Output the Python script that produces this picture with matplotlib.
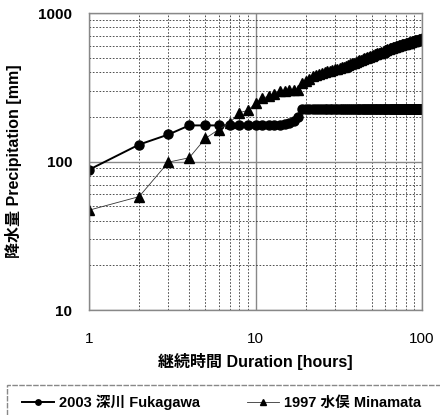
import numpy as np
import matplotlib.pyplot as plt
from matplotlib.patches import Rectangle
from matplotlib.ticker import LogLocator, FixedLocator, NullFormatter

plt.rcParams['font.family'] = ['Liberation Sans', 'Noto Sans CJK JP']

hours = list(range(1, 101))

# 2003 Fukagawa, hourly cumulative precipitation [mm]
fukagawa = ([88, 130, 152, 175, 175, 175, 175, 175, 175, 175,
             175, 175, 176, 177, 179, 183, 188, 198]
            + [226] * 82)

# 1997 Minamata, hourly cumulative precipitation [mm]
minamata = [47, 58, 99, 106, 143, 164, 182, 213, 221, 246,
            266, 276, 285, 297, 300, 302, 303, 305, 340, 350,
            362, 375, 382, 390, 395, 400, 405, 410, 414, 418,
            422, 426, 430, 435, 440, 446, 452, 458, 463, 468,
            474, 480, 486, 492, 497, 500, 503, 507, 512, 517,
            522, 527, 531, 535, 538, 541, 545, 550, 556, 560,
            565, 570, 574, 578, 581, 584, 587, 590, 593, 596,
            599, 602, 605, 608, 611, 614, 617, 620, 622, 625,
            627, 629, 631, 634, 637, 640, 643, 646, 649, 652,
            655, 657, 659, 661, 663, 665, 667, 669, 672, 675]

labels = ['2003 深川 Fukagawa', '1997 水俣 Minamata']

fig = plt.figure(figsize=(4.4, 4.15), dpi=100)
ax = fig.add_axes([89 / 440, 1 - 310 / 415, 333 / 440, 297 / 415])

l1, = ax.plot(hours, fukagawa, color='black', lw=1.4, marker='o', ms=6.5)
l2, = ax.plot(hours, minamata, color='#333333', lw=0.6, marker='^', ms=6.5,
              markerfacecolor='black', markeredgecolor='black')

ax.set_xscale('log')
ax.set_yscale('log')
ax.set_xlim(1, 100)
ax.set_ylim(10, 1000)

ax.xaxis.set_major_locator(FixedLocator([1, 10, 100]))
ax.yaxis.set_major_locator(FixedLocator([10, 100, 1000]))
ax.xaxis.set_minor_locator(LogLocator(base=10, subs=np.arange(2, 10)))
ax.yaxis.set_minor_locator(LogLocator(base=10, subs=np.arange(2, 10)))
ax.xaxis.set_minor_formatter(NullFormatter())
ax.yaxis.set_minor_formatter(NullFormatter())
ax.set_xticklabels(['1', '10', '100'])
ax.set_yticklabels(['10', '100', '1000'], fontweight='bold')

ax.tick_params(which='both', length=0)
ax.tick_params(axis='x', pad=16, labelsize=11)
ax.tick_params(axis='y', pad=12, labelsize=11)

ax.grid(which='major', color='#888888', lw=1.0, ls='-')
ax.grid(which='minor', color='#333333', lw=0.6, ls=(0, (2, 2)))
for s in ax.spines.values():
    s.set_color('#888888')
    s.set_linewidth(1.0)

ax.set_xlabel('継続時間 Duration [hours]', fontsize=11.5, fontweight='bold',
              labelpad=5)
ax.set_ylabel('降水量 Precipitation [mm]', fontsize=11.5, fontweight='bold',
              labelpad=12)

# legend box, its lower part is cut off by the figure edge
fig.add_artist(Rectangle((7 / 440, -0.1), 1.0, 1 - 385 / 415 + 0.1,
                         transform=fig.transFigure, fill=False,
                         ec='#888888', lw=1.0, ls=(0, (4, 1))))
leg = fig.legend([l1, l2], labels, loc='center left', ncol=2,
                 bbox_to_anchor=(22 / 440, 1 - 402 / 415),
                 frameon=False, fontsize=10.5, borderpad=0, borderaxespad=0,
                 handlelength=2.2, handletextpad=0.35, columnspacing=3.2,
                 markerscale=0.6)
for t in leg.get_texts():
    t.set_fontweight('bold')

fig.savefig('out.png', dpi=100)
